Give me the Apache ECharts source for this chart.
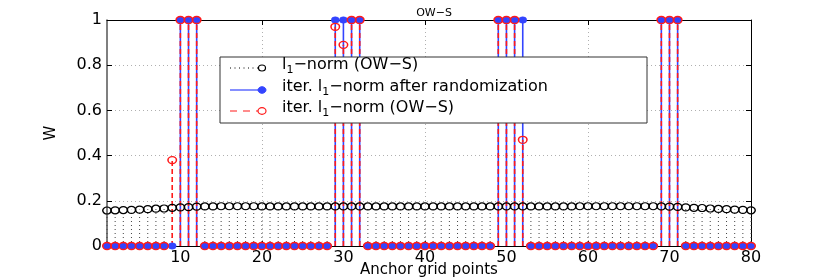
<!DOCTYPE html>
<html>
<head>
<meta charset="utf-8">
<script src="https://cdn.jsdelivr.net/npm/echarts@6/dist/echarts.min.js"></script>
<style>
html,body{margin:0;padding:0;background:#fff;}
#chart{width:830px;height:277px;}
</style>
</head>
<body>
<div id="chart"></div>
<script>
// ---- data ----
const anchorPoints = [1,2,3,4,5,6,7,8,9,10,11,12,13,14,15,16,17,18,19,20,
  21,22,23,24,25,26,27,28,29,30,31,32,33,34,35,36,37,38,39,40,
  41,42,43,44,45,46,47,48,49,50,51,52,53,54,55,56,57,58,59,60,
  61,62,63,64,65,66,67,68,69,70,71,72,73,74,75,76,77,78,79,80];

const l1Norm = [0.157,0.158,0.159,0.160,0.161,0.163,0.165,0.166,0.169,0.171,
  0.172,0.174,0.175,0.175,0.176,0.176,0.176,0.176,0.176,0.175,
  0.175,0.175,0.175,0.175,0.175,0.175,0.175,0.175,0.175,0.175,
  0.175,0.175,0.175,0.175,0.175,0.175,0.175,0.175,0.175,0.175,
  0.175,0.175,0.175,0.175,0.175,0.175,0.175,0.175,0.175,0.175,
  0.175,0.175,0.175,0.175,0.175,0.175,0.175,0.175,0.176,0.176,
  0.176,0.176,0.176,0.176,0.176,0.176,0.176,0.176,0.175,0.174,
  0.173,0.171,0.169,0.168,0.166,0.164,0.163,0.161,0.160,0.158];

const iterRandomized = [0,0,0,0,0,0,0,0,0,1,
  1,1,0,0,0,0,0,0,0,0,
  0,0,0,0,0,0,0,0,1,1,
  1,1,0,0,0,0,0,0,0,0,
  0,0,0,0,0,0,0,0,1,1,
  1,1,0,0,0,0,0,0,0,0,
  0,0,0,0,0,0,0,0,1,1,
  1,0,0,0,0,0,0,0,0,0];

const iterOWS = [0,0,0,0,0,0,0,0,0.38,1,
  1,1,0,0,0,0,0,0,0,0,
  0,0,0,0,0,0,0,0,0.97,0.89,
  1,1,0,0,0,0,0,0,0,0,
  0,0,0,0,0,0,0,0,1,1,
  1,0.47,0,0,0,0,0,0,0,0,
  0,0,0,0,0,0,0,0,1,1,
  1,0,0,0,0,0,0,0,0,0];

const xTicks = [10,20,30,40,50,60,70,80];
const yTicks = [0,0.2,0.4,0.6,0.8,1];

const legendNames = ['l{s|1}\u2212norm (OW\u2212S)',
  'iter. l{s|1}\u2212norm after randomization',
  'iter. l{s|1}\u2212norm (OW\u2212S)'];

// ---- styling ----
const FONT = 'DejaVu Sans';
const BLUE = '#3344ff';
const RED = '#ff1a1a';

function pairs(vals){ return anchorPoints.map((x,i)=>[x, vals[i]]); }

function stemSeries(vals, stroke, width, dash){
  return {
    type: 'custom',
    xAxisIndex: 0, yAxisIndex: 0,
    clip: false,
    silent: true,
    data: pairs(vals),
    renderItem: function(params, api){
      const x = api.value(0), y = api.value(1);
      const p0 = api.coord([x, 0]);
      const p1 = api.coord([x, y]);
      return {
        type: 'line',
        shape: {x1: p0[0], y1: p0[1], x2: p1[0], y2: p1[1]},
        style: {stroke: stroke, lineWidth: width, lineDash: dash || null, fill: null}
      };
    }
  };
}

function markerSeries(vals, fill, stroke, bw, size){
  return {
    type: 'scatter',
    xAxisIndex: 0, yAxisIndex: 0,
    clip: false,
    silent: true,
    symbol: 'circle',
    symbolSize: size,
    data: pairs(vals),
    itemStyle: {color: fill, borderColor: stroke, borderWidth: bw, opacity: 1}
  };
}

const chart = echarts.init(document.getElementById('chart'));

const grid = {left: 107, right: 79, top: 20, bottom: 31, containLabel: false, outerBoundsMode: 'none'};

const legX = 220, legY = 57, legW = 427, legH = 66;
const rowY = [68, 90, 111];
const textY = [65, 87, 108];
const richSub = {s: {fontSize: 11, fontFamily: FONT, lineHeight: 11, verticalAlign: 'bottom', fill: '#000'}};

const graphicEls = [
  {type: 'rect', shape: {x: legX, y: legY, width: legW, height: legH},
   style: {fill: '#fff', stroke: '#333', lineWidth: 1}, z: 100},
  {type: 'line', shape: {x1: 230, y1: rowY[0], x2: 258, y2: rowY[0]},
   style: {stroke: '#000', lineWidth: 1, lineDash: [1, 3.5]}, z: 101},
  {type: 'ellipse', shape: {cx: 262, cy: rowY[0], rx: 3.5, ry: 3},
   style: {fill: null, stroke: '#000', lineWidth: 1.2}, z: 101},
  {type: 'line', shape: {x1: 230, y1: rowY[1], x2: 262, y2: rowY[1]},
   style: {stroke: BLUE, lineWidth: 1.2}, z: 101},
  {type: 'ellipse', shape: {cx: 262, cy: rowY[1], rx: 4, ry: 3.3},
   style: {fill: BLUE, stroke: BLUE, lineWidth: 1}, z: 101},
  {type: 'line', shape: {x1: 230, y1: rowY[2], x2: 262, y2: rowY[2]},
   style: {stroke: RED, lineWidth: 1.2, lineDash: [7, 6]}, z: 101},
  {type: 'ellipse', shape: {cx: 262, cy: rowY[2], rx: 4, ry: 3.3},
   style: {fill: '#fff', stroke: RED, lineWidth: 1.2}, z: 101}
];
legendNames.forEach((t, i) => {
  graphicEls.push({
    type: 'text', x: 282, y: textY[i], z: 102,
    style: {text: t, rich: richSub, fontSize: 16, fontFamily: FONT, fill: '#000',
      verticalAlign: 'middle', lineHeight: 22}
  });
});

const option = {
  backgroundColor: '#fff',
  animation: false,
  title: {
    text: 'OW\u2212S', left: 429, top: 3, textAlign: 'center',
    textStyle: {fontSize: 11, fontWeight: 'normal', fontFamily: FONT, color: '#000'}
  },
  grid: grid,
  xAxis: [{
    type: 'value', min: 1, max: 80, position: 'bottom',
    name: 'Anchor grid points', nameLocation: 'middle', nameGap: 17, nameMoveOverlap: false,
    nameTextStyle: {fontSize: 15, fontFamily: FONT, color: '#000'},
    axisLine: {show: true, onZero: false, lineStyle: {color: '#000', width: 1}},
    axisTick: {show: true, inside: true, length: 5, customValues: xTicks, lineStyle: {color: '#000'}},
    axisLabel: {customValues: xTicks, fontSize: 16, fontFamily: FONT, color: '#000', margin: 4},
    splitLine: {show: true, lineStyle: {color: '#b0b0b0', type: [1, 3], width: 1}}
  }, {
    type: 'value', min: 1, max: 80, position: 'top',
    axisLine: {show: true, onZero: false, lineStyle: {color: '#000', width: 1}},
    axisTick: {show: true, inside: true, length: 5, customValues: xTicks, lineStyle: {color: '#000'}},
    axisLabel: {show: false, customValues: xTicks},
    splitLine: {show: false}
  }],
  yAxis: [{
    type: 'value', min: 0, max: 1, interval: 0.2, position: 'left',
    name: 'W', nameLocation: 'middle', nameGap: 48, nameRotate: 90, nameMoveOverlap: false,
    nameTextStyle: {fontSize: 15, fontFamily: FONT, color: '#000'},
    axisLine: {show: true, onZero: false, lineStyle: {color: '#555', width: 1.5}},
    axisTick: {show: true, inside: true, length: 5, lineStyle: {color: '#000'}},
    axisLabel: {fontSize: 16, fontFamily: FONT, color: '#000', margin: 5,
      formatter: v => String(yTicks.find(t => Math.abs(t - v) < 1e-9) ?? v)},
    splitLine: {show: true, lineStyle: {color: '#b0b0b0', type: [1, 3], width: 1}}
  }, {
    type: 'value', min: 0, max: 1, interval: 0.2, position: 'right',
    axisLine: {show: true, onZero: false, lineStyle: {color: '#000', width: 1}},
    axisTick: {show: true, inside: true, length: 5, lineStyle: {color: '#000'}},
    axisLabel: {show: false},
    splitLine: {show: false}
  }],
  series: [
    stemSeries(l1Norm, '#444', 1, [1, 3]),
    markerSeries(l1Norm, 'rgba(255,255,255,0)', '#000', 1.3, [8.5, 7]),
    stemSeries(iterRandomized, BLUE, 1.6, null),
    markerSeries(iterRandomized, BLUE, BLUE, 0.5, [8, 6.5]),
    stemSeries(iterOWS, RED, 1.6, [5, 3]),
    markerSeries(iterOWS, 'rgba(255,255,255,0)', RED, 1.4, [8.5, 7])
  ],
  graphic: {elements: graphicEls}
};

chart.setOption(option);
</script>
</body>
</html>
